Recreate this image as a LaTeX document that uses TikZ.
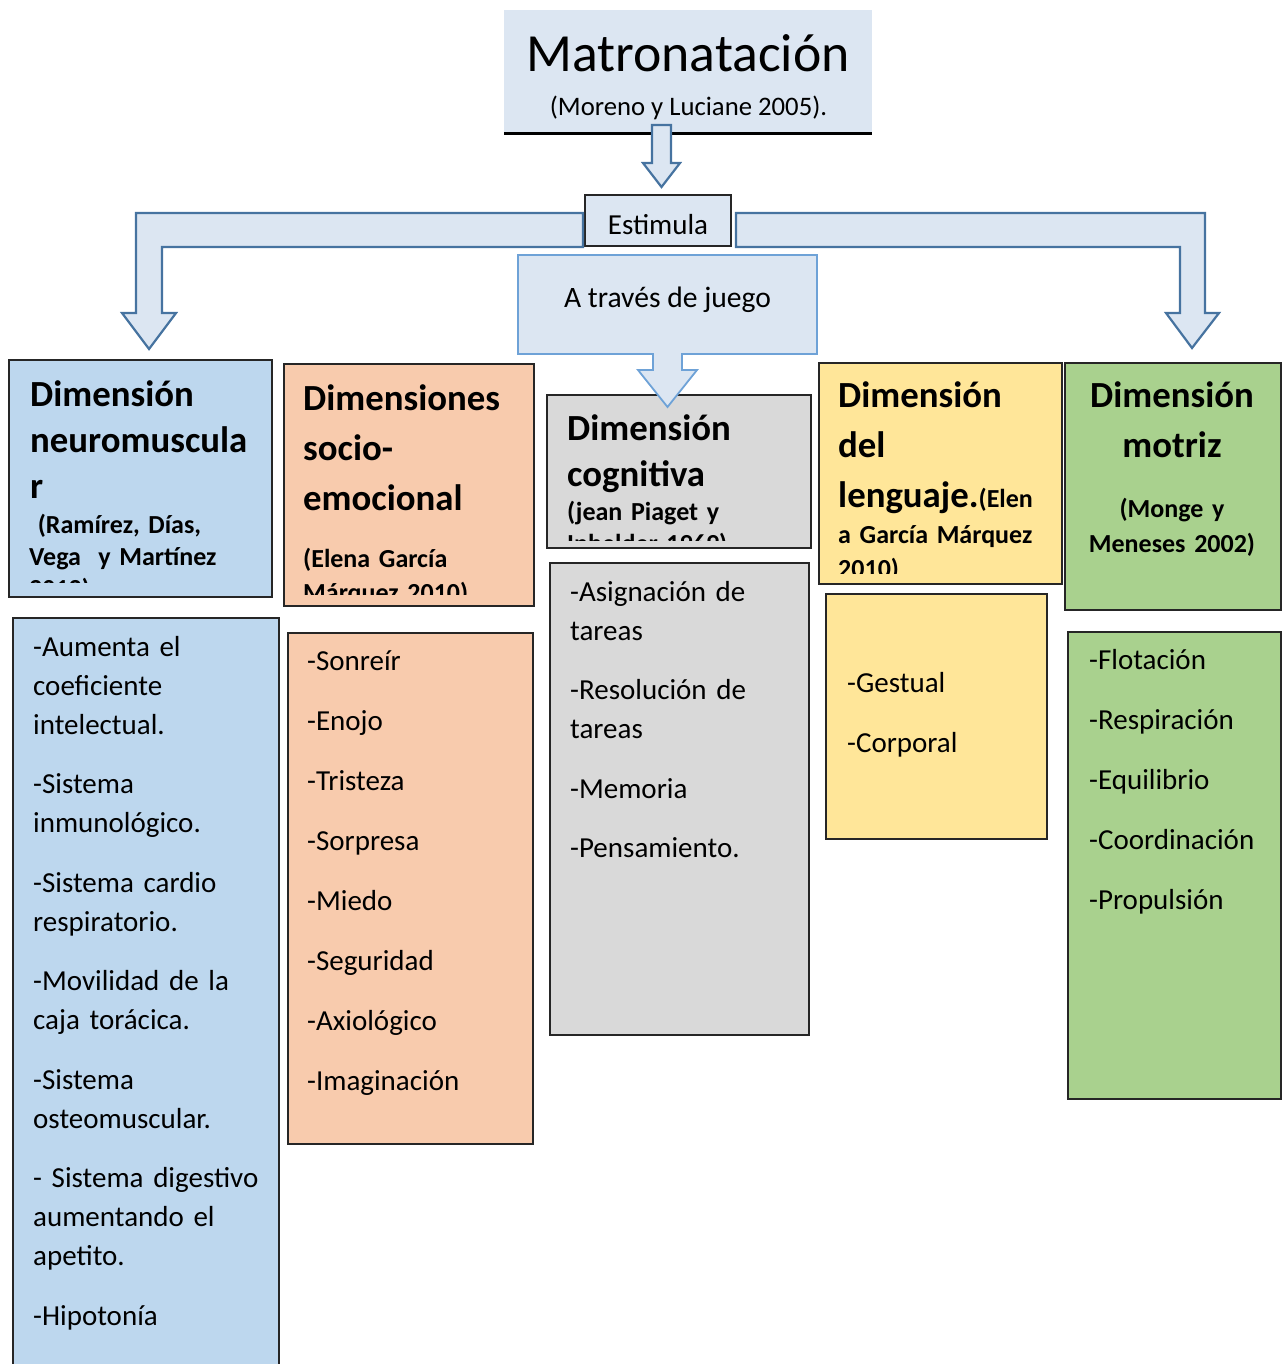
\documentclass[tikz,border=0pt]{standalone}
\usepackage{fontspec}
\setmainfont{Carlito}
\usetikzlibrary{calc}
\definecolor{fondoAzul}{RGB}{220,230,242}
\definecolor{bordeFlecha}{RGB}{70,115,160}
\definecolor{bordeJuego}{RGB}{110,162,215}
\definecolor{azulDim}{RGB}{189,215,238}
\definecolor{naranjaDim}{RGB}{248,203,173}
\definecolor{grisDim}{RGB}{217,217,217}
\definecolor{amarilloDim}{RGB}{255,230,153}
\definecolor{verdeDim}{RGB}{169,209,142}

\begin{document}
\begin{tikzpicture}[x=1pt,y=-1pt,
  caja/.style={draw=black!85,line width=1.5pt,inner sep=0pt,anchor=north west},
  flecha/.style={draw=bordeFlecha,fill=fondoAzul,line width=2.2pt,line join=miter},
  titulo/.style={anchor=north west,inner sep=0pt,align=left,text width=250pt,font=\fontsize{36.8}{#1}\bfseries\selectfont},
  titulo/.default=50,
  cita/.style={anchor=north west,inner sep=0pt,align=left,text width=250pt,font=\fontsize{26}{#1}\bfseries\selectfont},
  cita/.default=34,
  lista/.style={anchor=north west,inner sep=0pt,align=left,text width=250pt,font=\fontsize{29}{39}\selectfont}]
\useasboundingbox (0,0) rectangle (1283,1364);

\node[fill=fondoAzul,minimum width=368pt,minimum height=123pt,inner sep=0pt,anchor=north west] (matro) at (504,10) {};
\draw[line width=3pt] (matro.south west) -- (matro.south east);
\node[anchor=base,inner sep=0pt,font=\fontsize{53.7}{60}\selectfont] (matroTit) at (688,72) {Matronatación};
\node[anchor=base,inner sep=0pt,font=\fontsize{26.7}{32}\selectfont] (matroAut) at (688.5,116) {(Moreno y Luciane 2005).};
\draw[flecha] (652,125) -- (671,125) -- (671,163) -- (680,163) -- (661.5,187) -- (643,163) -- (652,163) -- cycle;

\node[caja,fill=fondoAzul,minimum width=146pt,minimum height=51pt,anchor=center,text height=29pt,text depth=0pt,font=\fontsize{29}{35}\selectfont] (estim) at (658,220.5) {Estimula};
\draw[flecha] (583,213) -- (136,213) -- (136,313) -- (122,313) -- (149,349) -- (176,313) -- (162,313) -- (162,247) -- (583,247) -- cycle;
\draw[flecha] (736,213) -- (1205,213) -- (1205,313) -- (1219,313) -- (1192,348) -- (1166,313) -- (1180,313) -- (1180,247) -- (736,247) -- cycle;

% cabeceras de las dimensiones
\node[caja,fill=azulDim,minimum width=263pt,minimum height=237pt] (neuroCab) at (8,359) {};
\begin{scope}
\clip (9,360) rectangle (270,582);
\node[titulo=46] (neuroTit) at (30,373.8) {\strut Dimensión\\neuromuscula\\r};
\node[cita=32] (neuroCita) at (29,510.6) {\strut\ (Ramírez, Días,\\Vega\ \ y Martínez\\2012)};
\end{scope}

\node[caja,fill=naranjaDim,minimum width=250pt,minimum height=242pt] (socioCab) at (283,363) {};
\begin{scope}
\clip (284,364) rectangle (532,594);
\node[titulo] (socioTit) at (303,375) {\strut Dimensiones\\socio-\\emocional};
\node[cita] (socioCita) at (303,543.2) {\strut(Elena García\\Márquez 2010)};
\end{scope}

\node[caja,fill=grisDim,minimum width=264pt,minimum height=153pt] (cogCab) at (546,394) {};
\begin{scope}
\clip (547,395) rectangle (809,540);
\node[titulo=46] (cogTit) at (567,407.8) {\strut Dimensión\\cognitiva};
\node[cita=32] (cogCita) at (567,497.6) {\strut(jean Piaget y\\Inhelder 1969)};
\end{scope}

\node[caja,fill=amarilloDim,minimum width=243pt,minimum height=221pt] (lengCab) at (818,362) {};
\begin{scope}
\clip (819,363) rectangle (1060,573);
\node[titulo] (lengTit) at (838,372) {\strut Dimensión\\del\\lenguaje.{\fontsize{26}{34}\selectfont(Elen}};
\node[cita] (lengCita) at (838,519.2) {\strut a García Márquez\\2010)};
\end{scope}

\node[caja,fill=verdeDim,minimum width=216pt,minimum height=247pt] (motCab) at (1064,362) {};
\node[titulo,anchor=north,align=center,text width=210pt] (motTit) at (1172,372) {\strut Dimensión\\motriz};
\node[cita=35,anchor=north,align=center,text width=210pt] (motCita) at (1172,492.5) {\strut(Monge y\\Meneses 2002)};

% listas
\node[caja,fill=azulDim,minimum width=266pt,minimum height=800pt] (neuroLista) at (12,617) {};
\node[lista] (neuroTxt) at (33,628.5) {\strut -Aumenta el\\coeficiente\\intelectual.\\[20.5pt]-Sistema\\inmunológico.\\[20.5pt]-Sistema cardio\\respiratorio.\\[20.5pt]-Movilidad de la\\caja torácica.\\[20.5pt]-Sistema\\osteomuscular.\\[20.5pt]- Sistema digestivo\\aumentando el\\apetito.\\[20.5pt]-Hipotonía};

\node[caja,fill=naranjaDim,minimum width=245pt,minimum height=511pt] (socioLista) at (287,632) {};
\node[lista] (socioTxt) at (307,642.5) {\strut -Sonreír\\[21pt]-Enojo\\[21pt]-Tristeza\\[21pt]-Sorpresa\\[21pt]-Miedo\\[21pt]-Seguridad\\[21pt]-Axiológico\\[21pt]-Imaginación};

\node[caja,fill=grisDim,minimum width=259pt,minimum height=472pt] (cogLista) at (549,562) {};
\node[lista] (cogTxt) at (570,573.5) {\strut -Asignación de\\tareas\\[20.5pt]-Resolución de\\tareas\\[20.5pt]-Memoria\\[20.5pt]-Pensamiento.};

\node[caja,fill=amarilloDim,minimum width=221pt,minimum height=245pt] (lengLista) at (825,593) {};
\node[lista] (lengTxt) at (847,664.5) {\strut -Gestual\\[21pt]-Corporal};

\node[caja,fill=verdeDim,minimum width=213pt,minimum height=467pt] (motLista) at (1067,631) {};
\node[lista] (motTxt) at (1089,641.5) {\strut -Flotación\\[21pt]-Respiración\\[21pt]-Equilibrio\\[21pt]-Coordinación\\[21pt]-Propulsión};

\draw[draw=bordeJuego,fill=fondoAzul,line width=1.8pt] (518,255) -- (817,255) -- (817,354) -- (682,354) -- (682,370) -- (697,370) -- (667.5,407) -- (638,370) -- (653,370) -- (653,354) -- (518,354) -- cycle;
\node[anchor=base,inner sep=0pt,font=\fontsize{29.6}{35}\selectfont] (juego) at (667.5,307) {A través de juego};
\end{tikzpicture}
\end{document}
